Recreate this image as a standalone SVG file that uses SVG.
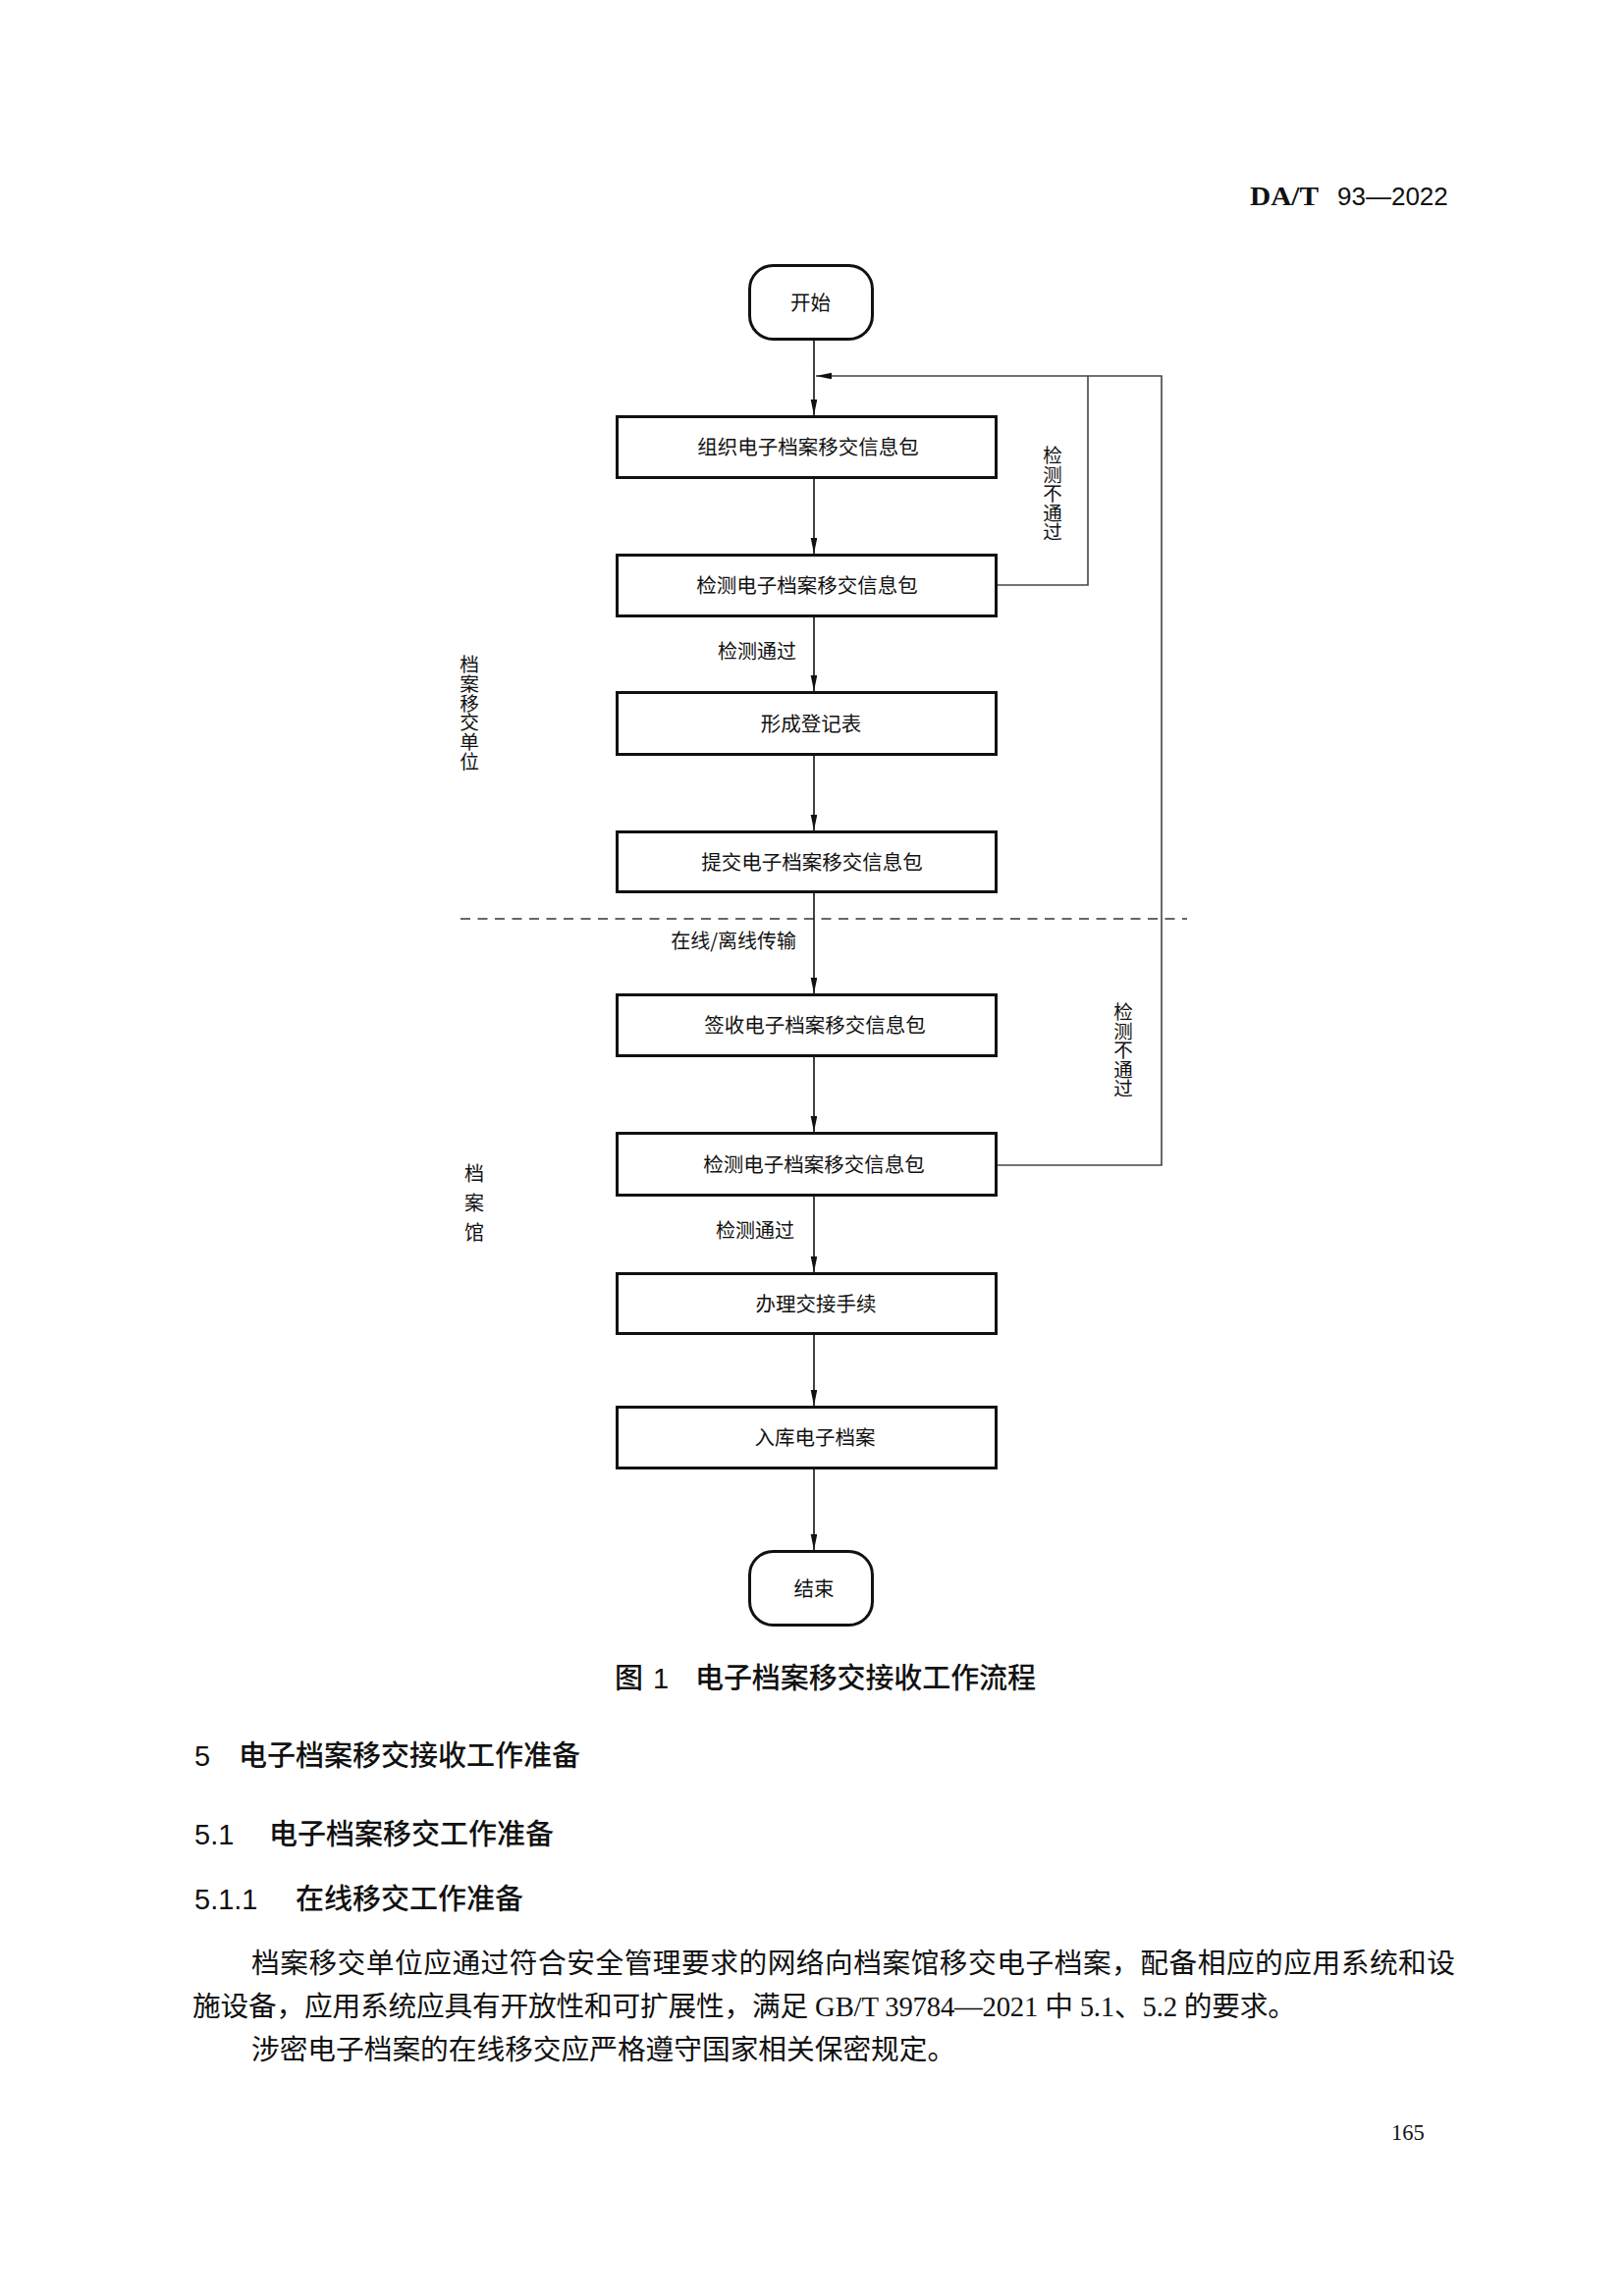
<svg xmlns="http://www.w3.org/2000/svg" width="1654" height="2339" viewBox="0 0 1654 2339">
<style>
.box{fill:#fff;stroke:#111;stroke-width:3}
.term{fill:#fff;stroke:#111;stroke-width:3}
.lbl{font-family:"Noto Sans CJK SC","Noto Sans CJK TC",sans-serif;font-size:20.5px;fill:#111;text-anchor:middle}
.vert{font-family:"Noto Sans CJK SC",sans-serif;font-size:19.5px;fill:#111;writing-mode:vertical-rl;text-orientation:upright}
.edge{font-family:"Noto Sans CJK SC",sans-serif;font-size:20px;fill:#111;text-anchor:end}
.flow{fill:none;stroke:#111;stroke-width:1.6}
.loop{fill:none;stroke:#444;stroke-width:1.6}
.head{font-family:"Liberation Sans","Noto Sans CJK SC",sans-serif;font-size:29px;fill:#111;font-weight:500}
.body{font-family:"Liberation Serif","Noto Sans CJK SC",serif;font-size:28.7px;fill:#111}
</style>
<defs>
<marker id="arr" markerUnits="userSpaceOnUse" markerWidth="18" markerHeight="8" refX="16" refY="3.3" orient="auto">
<path d="M0,0 L16,3.3 L0,6.6 Z" fill="#111"/>
</marker>
</defs>
<rect width="1654" height="2339" fill="#fff"/>
<g id="header">
<text x="1273" y="209" font-family="Liberation Serif,serif" font-weight="bold" font-size="27" fill="#111" textLength="70" lengthAdjust="spacingAndGlyphs">DA/T</text>
<text x="1362" y="209" font-family="Liberation Sans,sans-serif" font-size="26" fill="#111">93—2022</text>
</g>
<g id="lanes">
<line x1="469" y1="936" x2="1209" y2="936" stroke="#333" stroke-width="1.6" stroke-dasharray="10 7.5"/>
<text class="vert" x="478" y="667" style="font-size:19.7px">档案移交单位</text>
<text class="vert" x="483" y="1185" style="font-size:20px;letter-spacing:10px">档案馆</text>
</g>
<g id="connectors">
<line class="flow" x1="829" y1="347" x2="829" y2="423" marker-end="url(#arr)"/>
<line class="flow" x1="829" y1="488" x2="829" y2="564" marker-end="url(#arr)"/>
<line class="flow" x1="829" y1="629" x2="829" y2="704" marker-end="url(#arr)"/>
<line class="flow" x1="829" y1="770" x2="829" y2="846" marker-end="url(#arr)"/>
<line class="flow" x1="829" y1="910" x2="829" y2="1012" marker-end="url(#arr)"/>
<line class="flow" x1="829" y1="1077" x2="829" y2="1153" marker-end="url(#arr)"/>
<line class="flow" x1="829" y1="1219" x2="829" y2="1296" marker-end="url(#arr)"/>
<line class="flow" x1="829" y1="1360" x2="829" y2="1432" marker-end="url(#arr)"/>
<line class="flow" x1="829" y1="1497" x2="829" y2="1579" marker-end="url(#arr)"/>
<polyline class="loop" points="1016,596 1108,596 1108,383"/>
<polyline class="loop" points="1016,1187 1183,1187 1183,383 831,383" marker-end="url(#arr)"/>
<text class="edge" x="811" y="671">检测通过</text>
<text class="edge" x="811" y="966">在线/离线传输</text>
<text class="edge" x="809" y="1261">检测通过</text>
<text class="vert" x="1072" y="454">检测不通过</text>
<text class="vert" x="1144" y="1021">检测不通过</text>
</g>
<g id="n-start"><rect class="term" x="763.5" y="270.5" width="125" height="75" rx="24"/><text class="lbl" x="825.5" y="316">开始</text></g>
<g id="n-1"><rect class="box" x="628.5" y="424.5" width="386" height="62"/><text class="lbl" x="823" y="463">组织电子档案移交信息包</text></g>
<g id="n-2"><rect class="box" x="628.5" y="565.5" width="386" height="62"/><text class="lbl" x="822" y="604">检测电子档案移交信息包</text></g>
<g id="n-3"><rect class="box" x="628.5" y="705.5" width="386" height="63"/><text class="lbl" x="826" y="745">形成登记表</text></g>
<g id="n-4"><rect class="box" x="628.5" y="847.5" width="386" height="61"/><text class="lbl" x="827" y="886">提交电子档案移交信息包</text></g>
<g id="n-5"><rect class="box" x="628.5" y="1013.5" width="386" height="62"/><text class="lbl" x="830" y="1052">签收电子档案移交信息包</text></g>
<g id="n-6"><rect class="box" x="628.5" y="1154.5" width="386" height="63"/><text class="lbl" x="829" y="1194">检测电子档案移交信息包</text></g>
<g id="n-7"><rect class="box" x="628.5" y="1297.5" width="386" height="61"/><text class="lbl" x="831" y="1336">办理交接手续</text></g>
<g id="n-8"><rect class="box" x="628.5" y="1433.5" width="386" height="62"/><text class="lbl" x="830" y="1472">入库电子档案</text></g>
<g id="n-end"><rect class="term" x="763.5" y="1580.5" width="125" height="75" rx="24"/><text class="lbl" x="829" y="1626">结束</text></g>
<g id="text">
<text class="head"><tspan x="626" y="1720">图</tspan><tspan x="665">1</tspan><tspan x="708" textLength="347">电子档案移交接收工作流程</tspan></text>
<text class="head"><tspan x="198" y="1799">5</tspan><tspan x="243">电子档案移交接收工作准备</tspan></text>
<text class="head"><tspan x="198" y="1879">5.1</tspan><tspan x="274">电子档案移交工作准备</tspan></text>
<text class="head"><tspan x="198" y="1945">5.1.1</tspan><tspan x="301">在线移交工作准备</tspan></text>
<text class="body" x="256" y="2010" textLength="1226" lengthAdjust="spacing">档案移交单位应通过符合安全管理要求的网络向档案馆移交电子档案，配备相应的应用系统和设</text>
<text class="body" x="196" y="2054" textLength="1124" lengthAdjust="spacing">施设备，应用系统应具有开放性和可扩展性，满足 GB/T 39784—2021 中 5.1、5.2 的要求。</text>
<text class="body" x="256" y="2098">涉密电子档案的在线移交应严格遵守国家相关保密规定。</text>
<text x="1417" y="2180" font-family="Liberation Serif,serif" font-size="22.5" fill="#111">165</text>
</g>
</svg>
